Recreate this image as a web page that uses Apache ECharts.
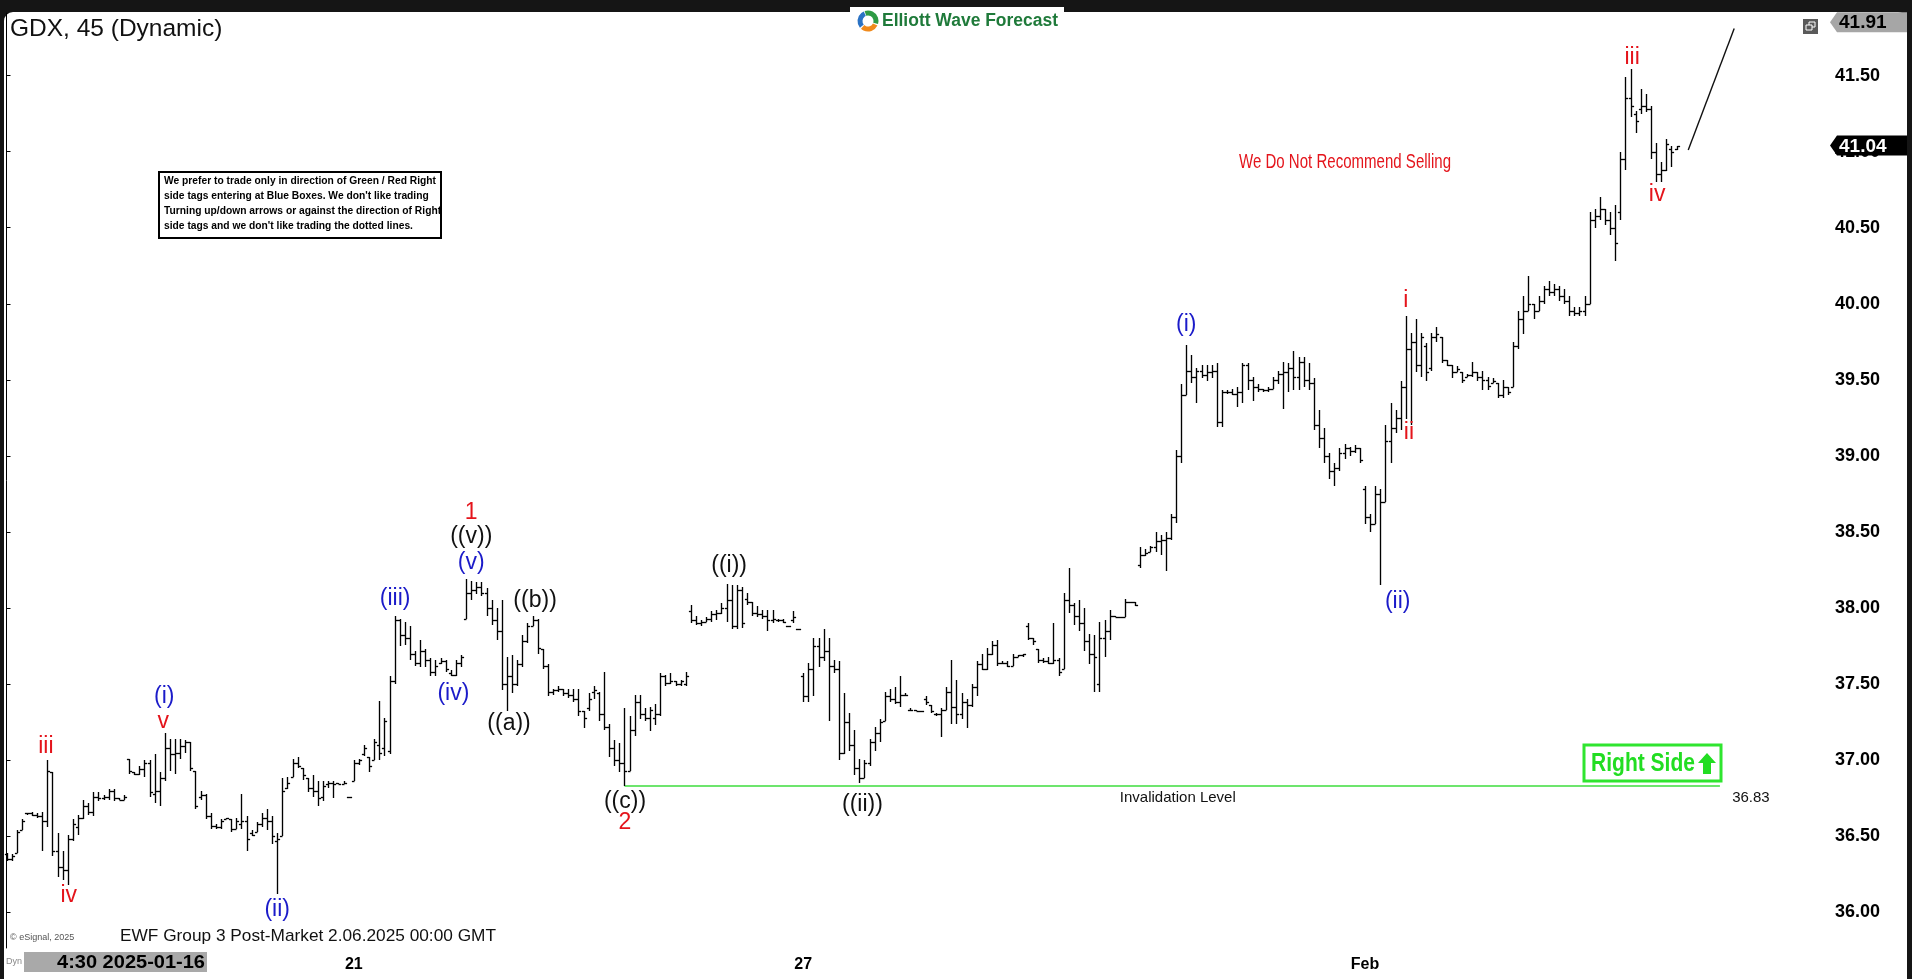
<!DOCTYPE html>
<html><head><meta charset="utf-8">
<script src="https://cdn.jsdelivr.net/npm/echarts@6.0.0/dist/echarts.min.js"></script>
<style>
html,body{margin:0;padding:0;background:#151515;overflow:hidden}
#bg{position:absolute;left:4px;top:12px;width:1903px;height:967px;background:#fff;border-radius:9px 9px 0 0}
#c{position:absolute;left:0;top:0;width:1912px;height:979px}
</style></head><body><div id="bg"></div><div id="c"></div>
<script>
// ---- data (45-minute OHLC bars, index = bar number) ----
const opens = [36.38,36.35,36.39,36.54,36.65,36.65,36.64,36.63,36.60,36.92,
36.40,36.30,36.28,36.48,36.56,36.62,36.70,36.66,36.76,36.75,
36.76,36.80,36.75,36.74,37.01,36.92,36.91,36.94,36.98,36.78,
36.80,36.88,37.08,37.04,37.05,37.09,37.12,36.93,36.76,36.77,
36.63,36.57,36.56,36.61,36.61,36.55,36.58,36.60,36.52,36.53,
36.58,36.62,36.60,36.47,36.50,36.82,36.89,36.98,36.95,36.88,
36.82,36.80,36.76,36.84,36.85,36.85,36.84,36.76,36.86,36.98,
37.04,37.02,37.00,37.10,37.08,37.06,37.52,37.92,37.82,37.80,
37.70,37.64,37.72,37.66,37.58,37.64,37.65,37.57,37.56,37.64,
37.93,38.10,38.12,38.14,38.10,38.00,37.92,37.85,37.50,37.55,
37.50,37.63,37.78,37.88,37.92,37.73,37.62,37.45,37.46,37.47,
37.44,37.43,37.40,37.32,37.34,37.45,37.44,37.30,37.22,37.08,
37.00,36.98,36.93,37.20,37.38,37.30,37.28,37.28,37.30,37.55,
37.51,37.52,37.50,37.50,37.98,37.92,37.90,37.91,37.93,37.96,
37.97,38.00,38.05,37.88,38.12,38.06,38.04,37.97,37.96,37.95,
37.92,37.92,37.92,37.88,37.92,37.86,37.55,37.42,37.60,37.75,
37.68,37.72,37.62,37.60,37.05,37.25,37.10,36.95,36.88,36.98,
37.12,37.18,37.26,37.42,37.40,37.38,37.43,37.33,37.33,37.32,
37.40,37.36,37.30,37.30,37.33,37.45,37.35,37.30,37.38,37.36,
37.48,37.63,37.60,37.70,37.76,37.64,37.64,37.62,37.68,37.69,
37.88,37.80,37.73,37.66,37.65,37.64,37.66,37.60,38.05,38.02,
37.95,37.90,37.78,37.70,37.50,37.80,37.85,37.95,37.94,37.94,
38.04,38.04,38.28,38.35,38.37,38.40,38.44,38.45,38.46,38.60,
39.00,39.40,39.56,39.52,39.56,39.53,39.55,39.56,39.22,39.42,
39.42,39.41,39.42,39.60,39.50,39.45,39.44,39.43,39.44,39.50,
39.54,39.55,39.58,39.52,39.62,39.50,39.48,39.20,39.12,39.00,
38.90,38.92,39.02,39.05,39.03,39.05,38.78,38.60,38.55,38.75,
38.70,39.10,39.18,39.25,39.45,39.70,39.75,39.60,39.72,39.58,
39.78,39.78,39.63,39.60,39.55,39.55,39.52,39.53,39.55,39.52,
39.50,39.48,39.48,39.40,39.45,39.45,39.72,39.90,39.95,40.00,
39.95,40.02,40.10,40.08,40.10,40.05,40.02,39.95,39.94,39.95,
40.00,40.55,40.58,40.62,40.55,40.50,40.60,40.95,41.35,41.25,
41.28,41.30,41.28,41.00,40.85,40.88,41.02,41.02];
const highs = [36.39,36.38,36.54,36.61,36.65,36.66,36.65,36.66,37.00,36.92,
36.52,36.40,36.51,36.61,36.64,36.74,36.72,36.79,36.79,36.77,
36.81,36.81,36.75,36.77,37.01,36.92,36.96,37.00,37.00,37.04,
36.92,37.18,37.14,37.14,37.14,37.13,37.12,36.93,36.80,36.78,
36.65,36.58,36.61,36.62,36.61,36.62,36.78,36.63,36.54,36.59,
36.65,36.68,36.63,36.52,36.88,36.89,37.01,37.02,36.95,36.88,
36.90,36.86,36.86,36.86,36.86,36.85,36.86,36.76,37.00,37.01,
37.10,37.02,37.14,37.39,37.28,37.55,37.95,37.93,37.91,37.88,
37.72,37.79,37.73,37.67,37.66,37.67,37.66,37.59,37.66,37.69,
38.19,38.18,38.17,38.17,38.13,38.05,38.00,38.05,37.68,37.69,
37.66,37.82,37.90,37.95,37.93,37.73,37.63,37.47,37.49,37.47,
37.47,37.47,37.47,37.32,37.44,37.49,37.45,37.58,37.24,37.13,
37.11,37.34,37.29,37.43,37.43,37.34,37.35,37.37,37.57,37.56,
37.57,37.52,37.53,37.58,38.02,37.95,37.92,37.94,37.98,37.99,
38.03,38.16,38.15,38.15,38.14,38.10,38.04,38.01,37.99,37.99,
37.99,37.93,37.93,37.88,37.98,37.86,37.57,37.64,37.80,37.80,
37.86,37.80,37.66,37.65,37.44,37.31,37.20,37.01,37.00,37.14,
37.22,37.27,37.45,37.47,37.48,37.55,37.44,37.34,37.33,37.32,
37.42,37.36,37.31,37.34,37.48,37.66,37.53,37.44,37.40,37.50,
37.65,37.70,37.74,37.78,37.79,37.65,37.65,37.70,37.69,37.70,
37.90,37.80,37.73,37.67,37.68,37.90,37.67,38.10,38.26,38.03,
38.05,38.00,37.83,37.82,37.91,37.92,37.99,37.95,37.94,38.06,
38.04,38.04,38.40,38.39,38.41,38.50,38.48,38.50,38.62,39.04,
39.47,39.73,39.66,39.58,39.60,39.60,39.60,39.61,39.43,39.43,
39.44,39.45,39.61,39.61,39.52,39.47,39.44,39.45,39.52,39.56,
39.62,39.61,39.69,39.65,39.65,39.61,39.51,39.30,39.18,39.02,
38.95,39.05,39.08,39.06,39.07,39.05,38.80,38.62,38.80,38.78,
39.20,39.35,39.30,39.49,39.92,39.81,39.90,39.81,39.74,39.81,
39.85,39.78,39.63,39.60,39.59,39.55,39.54,39.62,39.55,39.56,
39.52,39.51,39.48,39.50,39.45,39.75,39.95,40.05,40.18,40.00,
40.05,40.12,40.15,40.13,40.12,40.10,40.05,39.98,39.98,40.05,
40.60,40.62,40.70,40.62,40.60,40.65,41.00,41.49,41.54,41.27,
41.41,41.38,41.30,41.06,40.93,41.08,41.04,41.04];
const lows = [36.34,36.34,36.39,36.54,36.64,36.63,36.62,36.40,36.56,36.37,
36.23,36.21,36.18,36.47,36.51,36.61,36.64,36.63,36.73,36.74,
36.74,36.73,36.74,36.74,36.91,36.90,36.90,36.89,36.76,36.72,
36.70,36.86,36.93,36.91,37.01,37.05,36.93,36.68,36.74,36.61,
36.55,36.55,36.55,36.61,36.53,36.55,36.55,36.40,36.50,36.53,
36.56,36.54,36.45,36.12,36.50,36.81,36.89,36.95,36.87,36.79,
36.76,36.70,36.73,36.82,36.75,36.84,36.84,36.76,36.86,36.97,
37.03,36.92,37.00,37.00,37.03,37.04,37.50,37.75,37.76,37.66,
37.62,37.61,37.61,37.55,37.55,37.63,37.58,37.55,37.55,37.61,
37.93,38.05,38.09,38.08,37.95,37.89,37.79,37.46,37.32,37.44,
37.49,37.61,37.77,37.88,37.70,37.60,37.42,37.43,37.45,37.42,
37.41,37.38,37.29,37.21,37.32,37.40,37.26,37.20,37.02,36.96,
36.92,36.83,36.93,37.16,37.27,37.26,37.19,37.23,37.29,37.49,
37.50,37.49,37.49,37.49,37.90,37.89,37.88,37.91,37.91,37.92,
37.96,37.91,37.86,37.86,37.87,38.02,37.95,37.94,37.93,37.85,
37.90,37.91,37.90,37.88,37.90,37.86,37.38,37.38,37.42,37.61,
37.65,37.26,37.57,37.00,37.04,37.06,36.90,36.85,36.88,36.96,
37.06,37.12,37.26,37.38,37.37,37.35,37.42,37.32,37.32,37.32,
37.36,37.31,37.29,37.15,37.33,37.24,37.24,37.27,37.21,37.35,
37.42,37.59,37.59,37.69,37.62,37.63,37.61,37.62,37.68,37.68,
37.79,37.76,37.64,37.64,37.63,37.63,37.55,37.60,37.97,37.89,
37.85,37.72,37.63,37.45,37.45,37.68,37.79,37.94,37.94,37.94,
38.04,38.01,38.26,38.34,38.37,38.37,38.35,38.24,38.45,38.56,
38.95,39.40,39.48,39.35,39.51,39.49,39.51,39.19,39.19,39.41,
39.40,39.32,39.35,39.43,39.36,39.42,39.42,39.42,39.44,39.47,
39.31,39.42,39.43,39.43,39.45,39.43,39.17,39.05,38.95,38.85,
38.80,38.90,38.98,39.00,39.02,38.95,38.55,38.50,38.55,38.15,
38.70,38.95,39.15,39.17,39.24,39.20,39.55,39.52,39.49,39.56,
39.75,39.61,39.59,39.51,39.55,39.48,39.52,39.52,39.49,39.43,
39.43,39.48,39.38,39.38,39.40,39.45,39.70,39.80,39.95,39.90,
39.95,40.00,40.05,40.05,40.02,40.00,39.92,39.92,39.92,39.92,
40.00,40.50,40.55,40.52,40.45,40.28,40.55,40.88,41.23,41.12,
41.25,41.26,40.95,40.80,40.80,40.87,40.90,41.01];
const closes = [36.35,36.37,36.53,36.60,36.65,36.64,36.63,36.60,36.93,36.40,
36.30,36.28,36.48,36.58,36.62,36.70,36.66,36.76,36.75,36.76,
36.80,36.75,36.74,36.76,36.93,36.91,36.94,36.98,36.79,36.80,
36.88,37.08,37.04,37.05,37.09,37.12,36.95,36.70,36.77,36.63,
36.57,36.56,36.60,36.62,36.55,36.60,36.60,36.48,36.51,36.58,
36.62,36.60,36.50,36.48,36.80,36.85,36.98,36.96,36.90,36.82,
36.80,36.75,36.83,36.85,36.84,36.84,36.85,36.76,36.98,37.00,
37.08,36.96,37.12,37.05,37.26,37.52,37.92,37.82,37.80,37.70,
37.64,37.72,37.66,37.58,37.62,37.65,37.60,37.56,37.64,37.68,
38.10,38.12,38.14,38.10,38.00,37.92,37.85,37.50,37.55,37.50,
37.63,37.78,37.88,37.92,37.74,37.62,37.45,37.46,37.47,37.44,
37.43,37.40,37.32,37.28,37.40,37.46,37.30,37.22,37.08,37.00,
36.98,36.93,37.20,37.38,37.30,37.28,37.33,37.30,37.55,37.51,
37.52,37.50,37.52,37.55,37.92,37.90,37.91,37.93,37.96,37.97,
38.00,38.05,37.88,38.12,37.90,38.04,37.97,37.96,37.95,37.92,
37.93,37.92,37.91,37.88,37.94,37.86,37.42,37.60,37.75,37.68,
37.72,37.62,37.60,37.05,37.25,37.10,36.95,36.88,36.98,37.12,
37.18,37.25,37.42,37.40,37.38,37.43,37.43,37.33,37.32,37.32,
37.38,37.32,37.30,37.33,37.45,37.35,37.30,37.38,37.36,37.48,
37.63,37.60,37.70,37.76,37.64,37.64,37.62,37.68,37.69,37.70,
37.80,37.78,37.66,37.65,37.64,37.66,37.58,38.05,38.02,37.95,
37.90,37.78,37.70,37.68,37.80,37.85,37.95,37.94,37.94,38.04,
38.04,38.02,38.35,38.36,38.40,38.44,38.45,38.46,38.60,39.00,
39.40,39.56,39.52,39.56,39.53,39.55,39.56,39.22,39.42,39.42,
39.41,39.42,39.60,39.50,39.45,39.44,39.43,39.44,39.50,39.54,
39.55,39.58,39.52,39.62,39.50,39.48,39.20,39.12,39.00,38.90,
38.92,39.02,39.05,39.03,39.05,38.97,38.60,38.55,38.75,38.70,
39.10,39.18,39.25,39.45,39.70,39.75,39.60,39.78,39.55,39.78,
39.80,39.63,39.60,39.55,39.57,39.50,39.53,39.55,39.52,39.50,
39.46,39.49,39.40,39.45,39.42,39.72,39.90,39.95,40.00,39.95,
40.02,40.10,40.08,40.10,40.05,40.02,39.95,39.94,39.95,40.00,
40.55,40.58,40.62,40.55,40.50,40.40,40.95,41.35,41.30,41.20,
41.30,41.28,41.00,40.85,40.88,41.05,41.00,41.04];

const dayTickIndex = [68, 156, 266];
const dayTickLabels = ['21', '27', 'Feb'];
const priceTicks = [36.00, 36.50, 37.00, 37.50, 38.00, 38.50, 39.00, 39.50, 40.00, 40.50, 41.00, 41.50];
const topPrice = 41.91;
const lastPrice = 41.04;
const invalidationLevel = 36.83;
const invalidationRange = [121, 335.5];
const projectionPath = [[329.3, 41.01], [338.3, 41.81]];
// wave labels: text, bar index, price, colour group
const waveLabels = [
  ['iii', 7.7, 37.09, 'red'], ['iv', 12.2, 36.11, 'red'], ['v', 30.7, 37.25, 'red'],
  ['(i)', 30.9, 37.42, 'blue'], ['(ii)', 53.0, 36.02, 'blue'], ['(iii)', 76.1, 38.06, 'blue'],
  ['(iv)', 87.5, 37.44, 'blue'], ['(v)', 91.0, 38.30, 'blue'], ['((v))', 91.0, 38.47, 'black'],
  ['1', 91.0, 38.63, 'red'], ['((b))', 103.5, 38.05, 'black'], ['((a))', 98.4, 37.24, 'black'],
  ['((c))', 121.1, 36.73, 'black'], ['2', 121.1, 36.59, 'red'], ['((i))', 141.5, 38.28, 'black'],
  ['((ii))', 167.6, 36.71, 'black'], ['(i)', 231.0, 39.86, 'blue'], ['(ii)', 272.4, 38.04, 'blue'],
  ['i', 274.0, 40.02, 'red'], ['ii', 274.6, 39.15, 'red'], ['iii', 318.3, 41.62, 'red'],
  ['iv', 323.2, 40.72, 'red']
];
const disclaimerLines = [
  'We prefer to trade only in direction of Green / Red Right',
  "side tags entering at Blue Boxes. We don't like trading",
  'Turning up/down arrows or against the direction of Right',
  "side tags and we don't like trading the dotted lines."
];

const colors = {red: '#e4141b', blue: '#1b1bc9', black: '#111111'};
const FONT = "'Liberation Sans', Arial, sans-serif";

const measureCtx = document.createElement('canvas').getContext('2d');
function fitScale(text, font, target) {
  measureCtx.font = font;
  const w = measureCtx.measureText(text).width;
  return w > 0 ? target / w : 1;
}

const ohlc = opens.map((o, i) => [i, o, highs[i], lows[i], closes[i]]);

const chart = echarts.init(document.getElementById('c'));

function renderBar(params, api) {
  const i = api.value(0);
  const po = api.coord([i, api.value(1)]);
  const ph = api.coord([i, api.value(2)]);
  const pl = api.coord([i, api.value(3)]);
  const pc = api.coord([i, api.value(4)]);
  const x = Math.round(po[0]) + 0.5;
  let yh = Math.round(ph[1]), yl = Math.round(pl[1]);
  if (yl - yh < 1) yl = yh + 1;
  const yo = Math.round(po[1]) + 0.5, yc = Math.round(pc[1]) + 0.5;
  const st = {stroke: '#000', lineWidth: 1.35};
  return {type: 'group', children: [
    {type: 'line', shape: {x1: x, y1: yh, x2: x, y2: yl}, style: st},
    {type: 'line', shape: {x1: x - 2.6, y1: yo, x2: x, y2: yo}, style: st},
    {type: 'line', shape: {x1: x, y1: yc, x2: x + 2.6, y2: yc}, style: st}
  ]};
}

function renderWave(params, api) {
  const w = waveLabels[params.dataIndex];
  const p = api.coord([api.value(0), api.value(1)]);
  return {type: 'text', x: p[0], y: p[1], style: {
    text: w[0], fill: colors[w[3]], font: '23px ' + FONT, align: 'center', verticalAlign: 'middle'}};
}

const option = {
  animation: false,
  backgroundColor: 'transparent',
  grid: {left: 6, right: 83, top: 13.2, bottom: 31},
  xAxis: {
    type: 'value', min: -0.1, max: 356.86,
    axisLine: {show: false}, axisTick: {show: false}, splitLine: {show: false},
    axisLabel: {
      customValues: dayTickIndex,
      formatter: v => dayTickLabels[dayTickIndex.indexOf(v)] || '',
      color: '#000', fontFamily: FONT, fontWeight: 'bold', fontSize: 16, margin: 9
    }
  },
  yAxis: {
    type: 'value', position: 'right', min: 35.765, max: topPrice, scale: true,
    splitLine: {show: false},
    axisLine: {show: true, lineStyle: {color: '#000', width: 1}},
    axisTick: {show: true, customValues: priceTicks, length: 4, lineStyle: {color: '#000'}},
    axisLabel: {
      customValues: priceTicks, formatter: v => v.toFixed(2),
      color: '#000', fontFamily: FONT, fontWeight: 'bold', fontSize: 18, margin: 6
    }
  },
  series: [
    {type: 'custom', name: 'GDX', data: ohlc, renderItem: renderBar, clip: false,
     encode: {x: 0, y: [1, 2, 3, 4]}, silent: true, z: 3},
    {type: 'line', name: 'Invalidation',
     data: [[invalidationRange[0], invalidationLevel], [invalidationRange[1], invalidationLevel]],
     symbol: 'none', lineStyle: {color: '#3ddc3d', width: 1.6}, silent: true, z: 2},
    {type: 'line', name: 'Projection', data: projectionPath, symbol: 'none',
     lineStyle: {color: '#111', width: 1.4}, silent: true, z: 4},
    {type: 'custom', name: 'Waves', data: waveLabels.map(w => [w[1], w[2]]),
     renderItem: renderWave, clip: false, silent: true, z: 5},
    {type: 'custom', name: 'Notes', data: [[218.0, invalidationLevel], [337.9, invalidationLevel]],
     clip: false, silent: true, z: 5,
     renderItem: (params, api) => {
       const p = api.coord([api.value(0), api.value(1)]);
       const txt = params.dataIndex === 0 ? 'Invalidation Level' : invalidationLevel.toFixed(2);
       return {type: 'text', x: p[0], y: p[1] + 12, style: {text: txt, fill: '#111',
         font: '15px ' + FONT, align: 'left', verticalAlign: 'middle'}};
     }}
  ]
};
chart.setOption(option);

// annotations tied to the price scale
const yTop = chart.convertToPixel({yAxisIndex: 0}, topPrice);
const yLast = chart.convertToPixel({yAxisIndex: 0}, lastPrice);
const axisX = chart.convertToPixel({xAxisIndex: 0}, 356.86);
function priceTag(yc, fill, txtColor, txt) {
  return [
    {type: 'polygon', shape: {points: [[axisX + 1, yc], [axisX + 8, yc - 10], [1907, yc - 10], [1907, yc + 10], [axisX + 8, yc + 10]]},
     style: {fill: fill}, z: 50},
    {type: 'text', x: axisX + 10, y: yc + 1, style: {text: txt, fill: txtColor,
     font: 'bold 19px ' + FONT, verticalAlign: 'middle'}, z: 51}
  ];
}
const tagTopY = Math.max(yTop + 9, 22);

const g = [];
// title
g.push({type: 'text', x: 10, y: 29, style: {text: 'GDX, 45 (Dynamic)', fill: '#111', font: '24.5px ' + FONT, verticalAlign: 'middle'}, z: 60});
// logo
g.push({type: 'rect', shape: {x: 850, y: 7, width: 214, height: 27}, style: {fill: '#fff'}, z: 59});
g.push({type: 'arc', shape: {cx: 868, cy: 21, r: 8, startAngle: -1.9, endAngle: 0.3}, style: {stroke: '#2e9a44', lineWidth: 5, fill: null}, z: 60});
g.push({type: 'arc', shape: {cx: 868, cy: 21, r: 8, startAngle: 0.45, endAngle: 2.3}, style: {stroke: '#f08a1c', lineWidth: 5, fill: null}, z: 60});
g.push({type: 'arc', shape: {cx: 868, cy: 21, r: 8, startAngle: 2.45, endAngle: 4.3}, style: {stroke: '#2a72c4', lineWidth: 5, fill: null}, z: 60});
const logoFont = 'bold 17.5px ' + FONT;
g.push({type: 'text', x: 882, y: 21, scaleX: fitScale('Elliott Wave Forecast', logoFont, 176), style: {text: 'Elliott Wave Forecast', fill: '#1f7a3a', font: logoFont, verticalAlign: 'middle'}, z: 60});
// window icon
g.push({type: 'rect', shape: {x: 1803, y: 19, width: 15, height: 15}, style: {fill: '#5a5a5a'}, z: 60});
g.push({type: 'rect', shape: {x: 1809, y: 22, width: 6, height: 5}, style: {fill: null, stroke: '#fff', lineWidth: 1}, z: 61});
g.push({type: 'rect', shape: {x: 1806, y: 25, width: 6, height: 5}, style: {fill: '#5a5a5a', stroke: '#fff', lineWidth: 1}, z: 62});
// disclaimer box
g.push({type: 'rect', shape: {x: 159, y: 172, width: 282, height: 66}, style: {fill: '#fff', stroke: '#000', lineWidth: 2}, z: 60});
const discFont = 'bold 11.5px ' + FONT;
const discScale = fitScale(disclaimerLines[0], discFont, 272);
disclaimerLines.forEach((t, k) => g.push({type: 'text', x: 164, y: 181 + k * 15, scaleX: discScale,
  style: {text: t, fill: '#000', font: discFont, verticalAlign: 'middle'}, z: 61}));
// recommendation
const recFont = '21px ' + FONT;
g.push({type: 'text', x: 1345, y: 162, scaleX: fitScale('We Do Not Recommend Selling', recFont, 212),
  style: {text: 'We Do Not Recommend Selling', fill: '#e4141b', font: recFont, align: 'center', verticalAlign: 'middle'}, z: 60});
// right side box
g.push({type: 'rect', shape: {x: 1584, y: 745, width: 137, height: 36}, style: {fill: '#fff', stroke: '#2fe52f', lineWidth: 3}, z: 60});
const rsFont = 'bold 26px ' + FONT;
g.push({type: 'text', x: 1591, y: 764, scaleX: fitScale('Right Side', rsFont, 104),
  style: {text: 'Right Side', fill: '#22dd22', font: rsFont, verticalAlign: 'middle'}, z: 61});
g.push({type: 'polygon', shape: {points: [[1707, 753], [1716, 763], [1711, 763], [1711, 774], [1703, 774], [1703, 763], [1698, 763]]}, style: {fill: '#22dd22'}, z: 61});
// footer
g.push({type: 'text', x: 10, y: 938, style: {text: '\u00a9 eSignal, 2025', fill: '#555', font: '9px ' + FONT, verticalAlign: 'middle'}, z: 60});
const footFont = '17px ' + FONT;
g.push({type: 'text', x: 120, y: 936, scaleX: fitScale('EWF Group 3 Post-Market 2.06.2025 00:00 GMT', footFont, 376),
  style: {text: 'EWF Group 3 Post-Market 2.06.2025 00:00 GMT', fill: '#111', font: footFont, verticalAlign: 'middle'}, z: 60});
g.push({type: 'rect', shape: {x: 24, y: 952, width: 183, height: 20}, style: {fill: '#a9a9a9'}, z: 60});
const dateFont = 'bold 18px ' + FONT;
g.push({type: 'text', x: 205, y: 963, scaleX: fitScale('4:30 2025-01-16', dateFont, 148),
  style: {text: '4:30 2025-01-16', fill: '#000', font: dateFont, align: 'right', verticalAlign: 'middle'}, z: 61});
g.push({type: 'text', x: 6, y: 962, style: {text: 'Dyn', fill: '#888', font: '9px ' + FONT, verticalAlign: 'middle'}, z: 61});
// price tags
priceTag(tagTopY, '#a6a6a6', '#000', topPrice.toFixed(2)).forEach(e => g.push(e));
priceTag(yLast, '#000', '#fff', lastPrice.toFixed(2)).forEach(e => g.push(e));

chart.setOption({graphic: {elements: g}});
</script></body></html>
